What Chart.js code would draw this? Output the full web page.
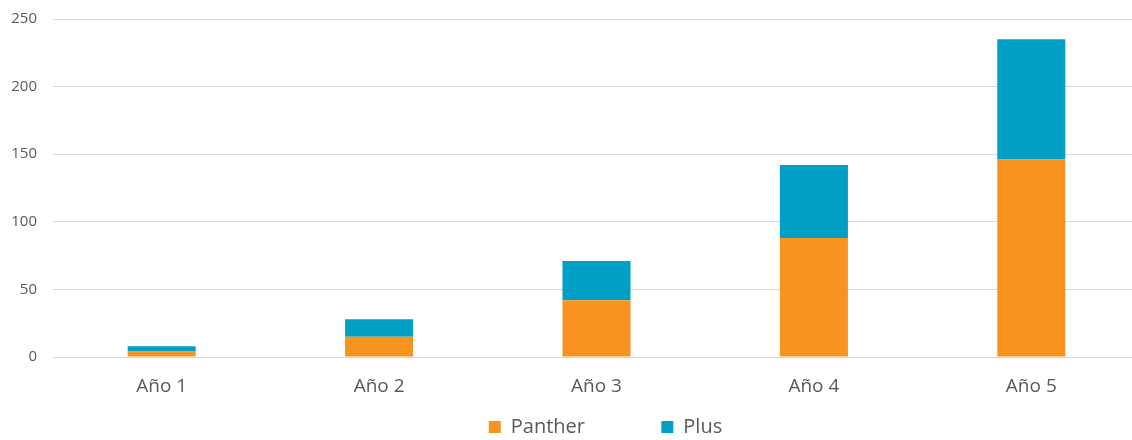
<!DOCTYPE html>
<html>
<head>
<meta charset="utf-8">
<script src="https://cdn.jsdelivr.net/npm/chart.js@4"></script>
<style>
  html, body { margin: 0; padding: 0; background: #ffffff; overflow: hidden; width: 1132px; height: 440px; }
  #wrap { position: absolute; left: 0; top: 0; width: 1211px; height: 447px; }
</style>
</head>
<body>
<div id="wrap"><canvas id="c" width="1211" height="447"></canvas></div>
<script>
const categories = ['Año 1', 'Año 2', 'Año 3', 'Año 4', 'Año 5'];
const panther = [4, 15, 42, 88, 146];
const plus = [4, 13, 29, 54, 89];
const yTicks = [0, 50, 100, 150, 200, 250];
const seriesNames = ['Panther', 'Plus'];

const ORANGE = '#F7931E';
const BLUE = '#009FC6';
const TEXT = '#595959';
const GRID = '#D9D9D9';

new Chart(document.getElementById('c'), {
  type: 'bar',
  data: {
    labels: categories,
    datasets: [
      { label: seriesNames[0], data: panther, backgroundColor: ORANGE, borderWidth: 0 },
      { label: seriesNames[1], data: plus, backgroundColor: BLUE, borderWidth: 0 }
    ]
  },
  options: {
    responsive: false,
    animation: false,
    devicePixelRatio: 1,
    layout: { padding: { top: 19, left: 0, right: 0, bottom: 0 } },
    datasets: { bar: { categoryPercentage: 1, barPercentage: 0.313 } },
    scales: {
      x: {
        stacked: true,
        grid: { display: false },
        border: { display: false },
        ticks: { color: TEXT, padding: 10, font: { family: 'Open Sans', size: 19 } },
        afterFit: s => { s.height = 46; }
      },
      y: {
        stacked: true,
        min: 0, max: 250,
        afterBuildTicks: s => { s.ticks = yTicks.map(v => ({ value: v })); },
        grid: { color: GRID, lineWidth: 1, drawTicks: false },
        border: { display: false },
        ticks: { color: TEXT, padding: 16, font: { family: 'Open Sans', size: 15 } },
        afterFit: s => { s.width = 53; s.paddingTop = 0; s.paddingBottom = 0; }
      },
      y2: {
        position: 'right',
        display: true,
        grid: { display: false },
        border: { display: false },
        ticks: { display: false },
        afterFit: s => { s.width = 71; s.paddingTop = 0; s.paddingBottom = 0; }
      }
    },
    plugins: {
      tooltip: { enabled: false },
      legend: {
        position: 'bottom',
        labels: {
          color: TEXT,
          boxWidth: 12,
          boxHeight: 12,
          padding: 14,
          font: { family: 'Open Sans', size: 20 },
          generateLabels: chart => {
            const items = Chart.defaults.plugins.legend.labels.generateLabels(chart);
            items.forEach((it, i) => { if (i === 0) it.text = it.text + '            '; it.lineWidth = 0; });
            return items;
          }
        }
      }
    }
  }
});
</script>
</body>
</html>
